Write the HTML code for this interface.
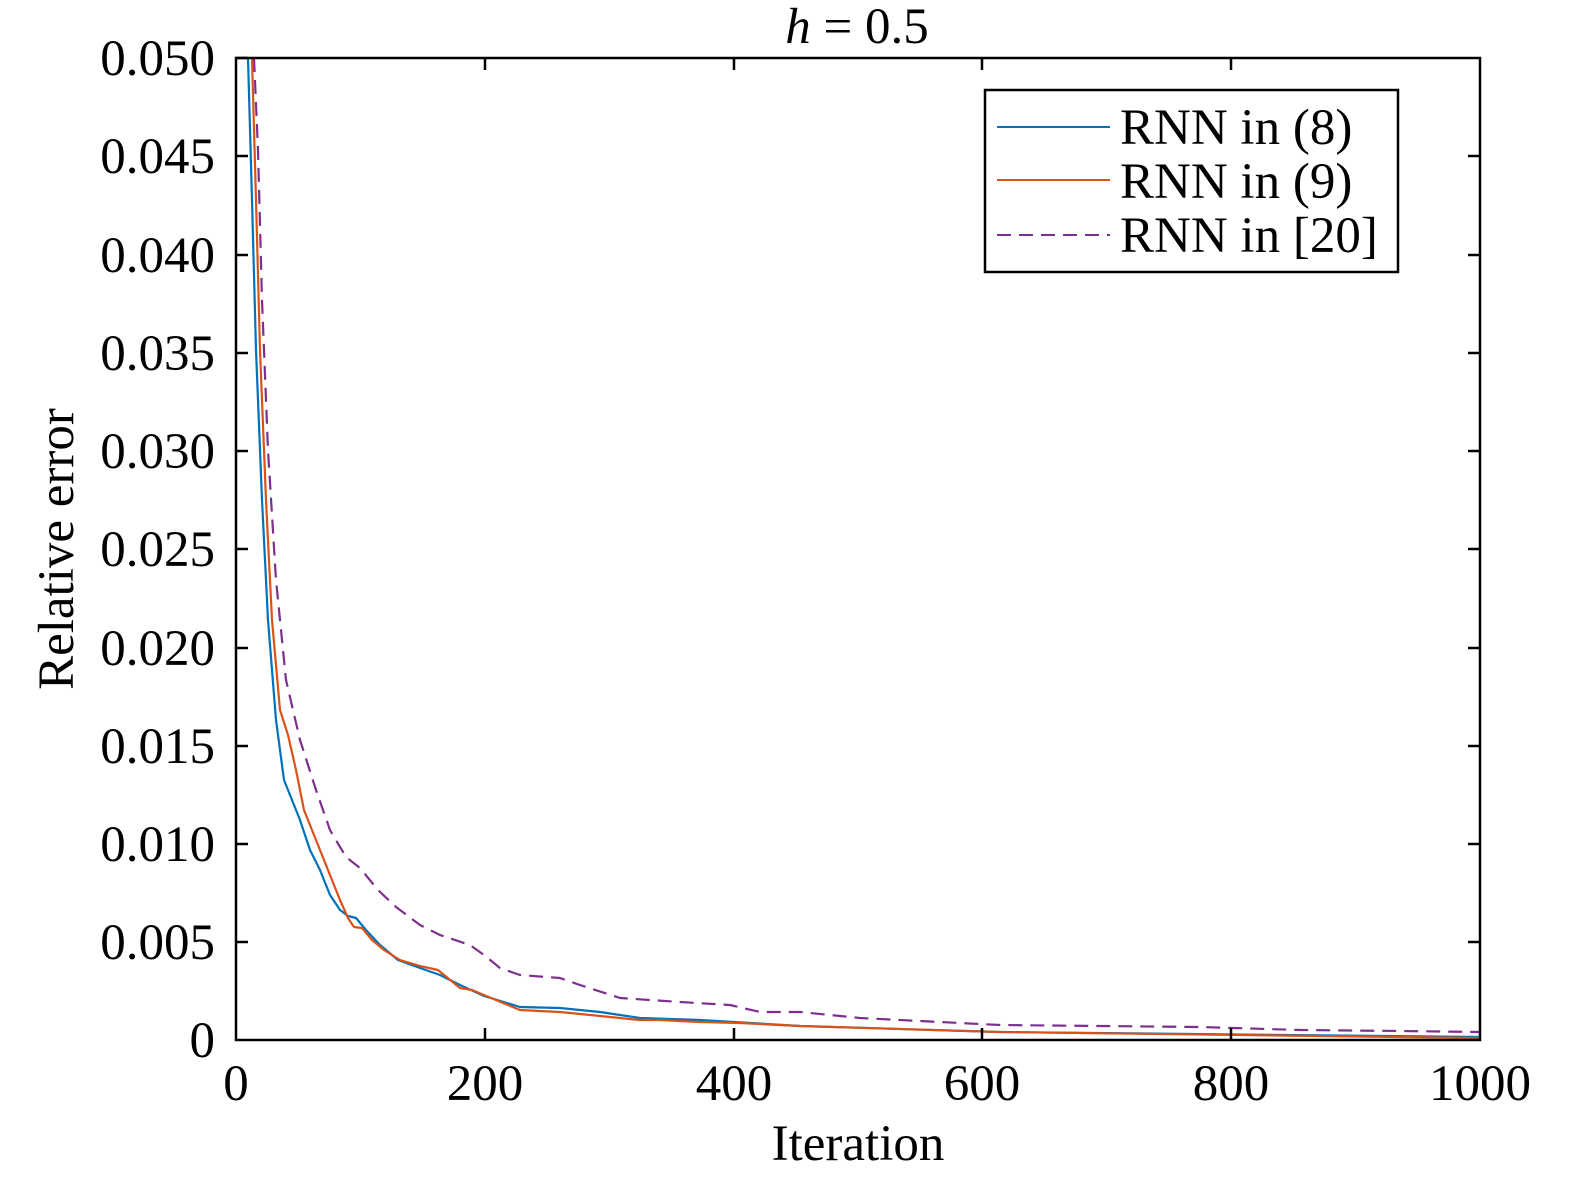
<!DOCTYPE html>
<html><head><style>body{margin:0;background:#fff}</style></head><body>
<svg width="1575" height="1182" xmlns="http://www.w3.org/2000/svg" font-family="Liberation Serif, serif">
<rect width="1575" height="1182" fill="#fff"/>
<g fill="none" stroke-width="2.2" stroke-linejoin="round">
<polyline stroke="#0072bd" points="248,58 252,200 256,350 262,500 268,620 276,720 284,780 292,800 300,820 310,850 320,870 330,895 340,910 348,916 356,918 366,930 380,945 398,960 420,968 440,975 460,985 484,996 520,1007 560,1008 600,1012 640,1018 700,1020 800,1026 1000,1032 1480,1037"/>
<polyline stroke="#d95319" points="252,58 256,200 260,350 266,500 272,620 280,710 288,735 296,770 304,810 316,840 328,870 340,900 348,918 354,927 362,928 372,940 384,950 400,960 420,966 438,970 460,988 472,990 484,995 520,1010 560,1012 600,1016 640,1020 660,1020 700,1022 740,1023 800,1026 1000,1032 1480,1038"/>
<polyline stroke="#7e2f8e" stroke-dasharray="14,8" points="254,58 258,150 262,300 268,450 276,580 286,680 300,740 316,790 330,830 346,857 360,868 378,890 396,907 420,925 440,935 470,945 484,955 500,968 520,975 560,978 580,985 620,998 680,1002 730,1005 760,1012 800,1012 860,1018 940,1022 1000,1025 1100,1026 1200,1027 1300,1030 1400,1031 1480,1032"/>
</g>
<rect x="236" y="58" width="1244" height="982" fill="none" stroke="#000" stroke-width="2.5"/>
<g stroke="#000" stroke-width="2.5">
<path d="M236,58h12M236,156h12M236,255h12M236,353h12M236,451h12M236,549h12M236,648h12M236,746h12M236,844h12M236,942h12M1480,156h-12M1480,255h-12M1480,353h-12M1480,451h-12M1480,549h-12M1480,648h-12M1480,746h-12M1480,844h-12M1480,942h-12"/>
<path d="M485,1040v-12M734,1040v-12M982,1040v-12M1231,1040v-12M485,58v12M734,58v12M982,58v12M1231,58v12"/>
</g>
<g font-size="51" text-anchor="end">
<text x="215" y="75">0.050</text><text x="215" y="173">0.045</text><text x="215" y="272">0.040</text><text x="215" y="370">0.035</text><text x="215" y="468">0.030</text><text x="215" y="566">0.025</text><text x="215" y="665">0.020</text><text x="215" y="763">0.015</text><text x="215" y="861">0.010</text><text x="215" y="959">0.005</text><text x="215" y="1057">0</text>
</g>
<g font-size="51" text-anchor="middle">
<text x="236" y="1100">0</text><text x="485" y="1100">200</text><text x="734" y="1100">400</text><text x="982" y="1100">600</text><text x="1231" y="1100">800</text><text x="1480" y="1100">1000</text>
<text x="858" y="1160">Iteration</text>
<text x="857" y="43"><tspan font-style="italic">h</tspan> = 0.5</text>
<text transform="translate(73,549) rotate(-90)">Relative error</text>
</g>
<rect x="985" y="90" width="413" height="182" fill="#fff" stroke="#000" stroke-width="2.5"/>
<line x1="997" y1="127" x2="1110" y2="127" stroke="#0072bd" stroke-width="2"/>
<line x1="997" y1="180" x2="1110" y2="180" stroke="#d95319" stroke-width="2"/>
<line x1="997" y1="235" x2="1110" y2="235" stroke="#7e2f8e" stroke-width="2" stroke-dasharray="14,8"/>
<g font-size="51"><text x="1120" y="144">RNN in (8)</text><text x="1120" y="198">RNN in (9)</text><text x="1120" y="252">RNN in [20]</text></g>
</svg>
</body></html>
